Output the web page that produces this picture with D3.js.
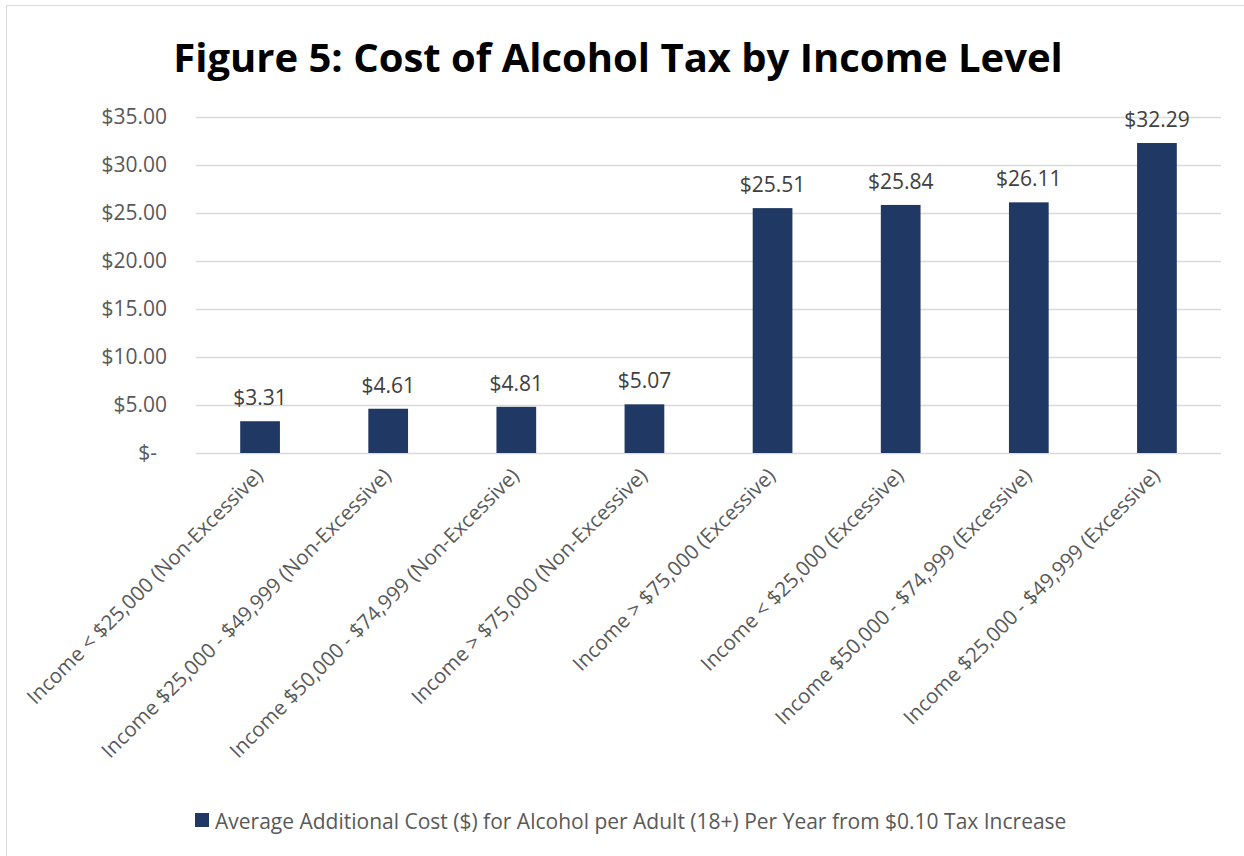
<!DOCTYPE html>
<html>
<head>
<meta charset="utf-8">
<script src="https://cdn.jsdelivr.net/npm/d3@7"></script>
<style>
  body { margin: 0; background: #fff; }
  svg { display: block; }
  svg text { font-family: "Open Sans", sans-serif; }
</style>
</head>
<body>
<script>
// chart data
var categories = [
  "Income < $25,000 (Non-Excessive)",
  "Income $25,000 - $49,999 (Non-Excessive)",
  "Income $50,000 - $74,999 (Non-Excessive)",
  "Income > $75,000 (Non-Excessive)",
  "Income > $75,000 (Excessive)",
  "Income < $25,000 (Excessive)",
  "Income $50,000 - $74,999 (Excessive)",
  "Income $25,000 - $49,999 (Excessive)"
];
var values = [3.31, 4.61, 4.81, 5.07, 25.51, 25.84, 26.11, 32.29];
var yTicks = [0, 5, 10, 15, 20, 25, 30, 35];
var seriesName = "Average Additional Cost ($) for Alcohol per Adult (18+) Per Year from $0.10 Tax Increase";
var title = "Figure 5: Cost of Alcohol Tax by Income Level";

var W = 1244, H = 856;
var margin = {top: 117, right: 23, bottom: 403, left: 196};
var width = W - margin.left - margin.right,
    height = H - margin.top - margin.bottom;

var svg = d3.select("body")
  .append("svg")
    .attr("width", W)
    .attr("height", H);

// outer border
svg.append("rect")
  .attr("x", 6.5).attr("y", 5.5)
  .attr("width", W - 6).attr("height", H)
  .attr("fill", "none")
  .attr("stroke", "#d9d9d9");

var g = svg.append("g")
  .attr("transform", "translate(" + margin.left + "," + margin.top + ")");

var x = d3.scaleBand()
  .domain(categories)
  .range([0, width])
  .paddingInner(0.69)
  .paddingOuter(0.345);

var y = d3.scaleLinear()
  .domain([0, 35])
  .range([height, 0]);

// gridlines
g.append("g")
  .selectAll("line")
  .data(yTicks)
  .enter()
  .append("line")
    .attr("x1", 0).attr("x2", width)
    .attr("y1", function(d) { return y(d) + 0.5; })
    .attr("y2", function(d) { return y(d) + 0.5; })
    .attr("stroke", "#d9d9d9")
    .attr("stroke-width", 1.5);

// y axis
var yAxis = g.append("g")
  .call(d3.axisLeft(y)
    .tickValues(yTicks)
    .tickSize(0)
    .tickPadding(29)
    .tickFormat(function(d) { return d === 0 ? "$-" : "$" + d3.format(".2f")(d); }));
yAxis.select(".domain").remove();
yAxis.attr("font-family", null).attr("font-size", null);
yAxis.selectAll("text")
  .attr("fill", "#595959")
  .style("font-size", "21px")
  .attr("dx", function(d) { return d === 0 ? -10 : 0; });

// bars
g.append("g")
  .selectAll("rect")
  .data(values)
  .enter()
  .append("rect")
    .attr("x", function(d, i) { return x(categories[i]); })
    .attr("y", function(d) { return y(d); })
    .attr("width", x.bandwidth())
    .attr("height", function(d) { return height - y(d); })
    .attr("fill", "#203864");

// data labels
g.append("g")
  .selectAll("text")
  .data(values)
  .enter()
  .append("text")
    .attr("x", function(d, i) { return x(categories[i]) + x.bandwidth() / 2; })
    .attr("y", function(d) { return y(d) - 16; })
    .attr("text-anchor", "middle")
    .attr("fill", "#404040")
    .style("font-size", "21px")
    .text(function(d) { return "$" + d3.format(".2f")(d); });

// x labels, rotated
g.append("g")
  .selectAll("text")
  .data(categories)
  .enter()
  .append("text")
    .attr("transform", function(d) {
      return "translate(" + (x(d) + x.bandwidth() / 2 + 4) + "," + (height + 24) + ") rotate(-45)";
    })
    .attr("text-anchor", "end")
    .attr("fill", "#595959")
    .style("font-size", "20.5px")
    .text(function(d) { return d; });

// title
svg.append("text")
  .attr("x", 618)
  .attr("y", 72)
  .attr("text-anchor", "middle")
  .attr("font-weight", "bold")
  .style("font-size", "40px")
  .attr("fill", "#000")
  .text(title);

// legend
svg.append("rect")
  .attr("x", 195).attr("y", 813)
  .attr("width", 14).attr("height", 14)
  .attr("fill", "#203864");
svg.append("text")
  .attr("x", 215).attr("y", 829)
  .attr("fill", "#595959")
  .style("font-size", "21px")
  .text(seriesName);
</script>
</body>
</html>
